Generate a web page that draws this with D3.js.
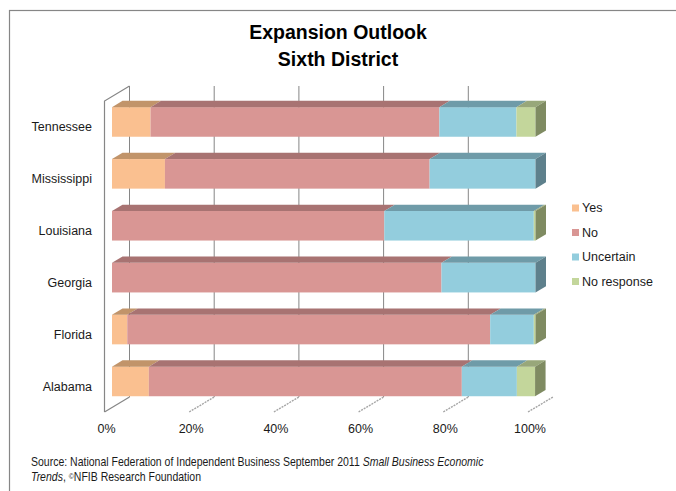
<!DOCTYPE html>
<html>
<head>
<meta charset="utf-8">
<script src="https://cdn.jsdelivr.net/npm/d3@7/dist/d3.min.js"></script>
<style>
  html, body { margin: 0; padding: 0; background: #fff; }
  svg { display: block; font-family: "Liberation Sans", Arial, sans-serif; }
</style>
</head>
<body>
<svg id="chart" width="676" height="491"></svg>
<script>
// Survey shares (%) by state, stacked in the order of the series list
const states = ["Tennessee", "Mississippi", "Louisiana", "Georgia", "Florida", "Alabama"];
const series = ["Yes", "No", "Uncertain", "No response"];
const yesVals        = [9.1, 12.5, 0,    0,    3.6,  8.7];
const noVals         = [68.2, 62.5, 64.3, 77.8, 85.7, 73.9];
const uncertainVals  = [18.2, 25.0, 35.3, 22.2, 10.3, 13.0];
const noResponseVals = [4.5,  0,    0.4,  0,    0.4,  4.3];
const tickValues = [0, 20, 40, 60, 80, 100];
const tickLabels = ["0%", "20%", "40%", "60%", "80%", "100%"];

const seriesValues = [yesVals, noVals, uncertainVals, noResponseVals];
const palette = {
  front: ["#fac090", "#d99694", "#93cddd", "#c3d69b"],
  top:   ["#c1946a", "#a87372", "#6f9ba8", "#98a77a"],
  side:  ["#a07a55", "#8c5f5e", "#5e808c", "#7f8b62"]
};

const svg = d3.select("#chart");

// outer chart frame
svg.append("rect")
  .attr("x", 9.5).attr("y", 10.5)
  .attr("width", 700).attr("height", 520)
  .attr("fill", "#fff").attr("stroke", "#868686").attr("stroke-width", 1.2);

// title
const title = svg.append("text")
  .attr("text-anchor", "middle")
  .attr("font-weight", "bold").attr("font-size", 19.5).attr("fill", "#000");
title.append("tspan").attr("x", 338).attr("y", 39).text("Expansion Outlook");
title.append("tspan").attr("x", 338).attr("y", 66).text("Sixth District");

// oblique projection: value along x, depth goes up and to the right
const depthDX = 25, depthDY = -15;
const x = d3.scaleLinear().domain([0, 100]).range([104.5, 528]);
const floorY = 412;
const wallTop = 101;
const y = d3.scaleBand().domain(states).range([96, 407.4]).paddingInner(0.43).paddingOuter(0.215);
const barD0 = 0.3, barD1 = 0.72;

const px = (v, d) => x(v) + d * depthDX;
const py = (yy, d) => yy + d * depthDY;

// back-wall gridlines
const grid = svg.append("g");
grid.selectAll("line.grid")
  .data(tickValues.slice(0, -1))
  .join("line")
  .attr("class", "grid")
  .attr("x1", d => px(d, 1)).attr("x2", d => px(d, 1))
  .attr("y1", py(wallTop, 1)).attr("y2", py(floorY, 1))
  .attr("stroke", "#868686").attr("stroke-width", 1);

// left side wall
svg.append("path")
  .attr("d", `M${px(0,1)},${py(wallTop,1)} L${px(0,0)},${py(wallTop,0)} L${px(0,0)},${floorY}`)
  .attr("fill", "none").attr("stroke", "#868686").attr("stroke-width", 1.2);

// floor gridlines (diagonal)
svg.append("g").selectAll("line")
  .data(tickValues)
  .join("line")
  .attr("x1", d => px(d, 0)).attr("y1", py(floorY, 0))
  .attr("x2", d => px(d, 1)).attr("y2", py(floorY, 1))
  .attr("stroke", d => d === 0 ? "#868686" : "#a6a6a6")
  .attr("stroke-width", d => d === 0 ? 1.2 : 1.4)
  .attr("stroke-dasharray", d => d === 0 ? null : "2,1");

// stacked 3D bars
const stackRows = states.map((s, i) => {
  let acc = 0;
  const segs = seriesValues.map((vals, k) => {
    const s0 = acc; acc += vals[i];
    return { k, v0: s0, v1: acc, value: vals[i] };
  }).filter(d => d.value > 0);
  return { state: s, segs };
});

const bars = svg.append("g");
stackRows.forEach(row => {
  const top = y(row.state), bot = top + y.bandwidth();
  const g = bars.append("g");
  row.segs.forEach((seg, j) => {
    const xa = px(seg.v0, barD0), xb = px(seg.v1, barD0);
    // front face
    g.append("rect")
      .attr("x", xa).attr("y", top)
      .attr("width", xb - xa).attr("height", bot - top)
      .attr("fill", palette.front[seg.k]);
    // top face
    const dd = barD1 - barD0;
    g.append("path")
      .attr("d", `M${xa},${top} L${xa + dd*depthDX},${top + dd*depthDY} L${xb + dd*depthDX},${top + dd*depthDY} L${xb},${top} Z`)
      .attr("fill", palette.top[seg.k]);
    // end cap on the last segment
    if (j === row.segs.length - 1) {
      g.append("path")
        .attr("d", `M${xb},${top} L${xb + dd*depthDX},${top + dd*depthDY} L${xb + dd*depthDX},${bot + dd*depthDY} L${xb},${bot} Z`)
        .attr("fill", palette.side[seg.k]);
    }
  });
});

// category labels
svg.append("g").selectAll("text")
  .data(states)
  .join("text")
  .attr("x", 92)
  .attr("y", d => y(d) + y.bandwidth() / 2 + 5)
  .attr("dy", "0.35em")
  .attr("text-anchor", "end")
  .attr("font-size", 12.5).attr("fill", "#1a1a1a")
  .text(d => d);

// value axis labels
svg.append("g").selectAll("text")
  .data(tickValues)
  .join("text")
  .attr("x", d => x(d) + 2)
  .attr("y", 429)
  .attr("dy", "0.35em")
  .attr("text-anchor", "middle")
  .attr("font-size", 12.5).attr("fill", "#1a1a1a")
  .text((d, i) => tickLabels[i]);

// legend
const legend = svg.append("g").attr("transform", "translate(572,208)");
series.forEach((name, k) => {
  const row = legend.append("g").attr("transform", `translate(0,${k * 24.5})`);
  row.append("rect").attr("x", 0).attr("y", -3.5).attr("width", 7).attr("height", 7)
    .attr("fill", palette.front[k]);
  row.append("text").attr("x", 10).attr("y", 0).attr("dy", "0.35em")
    .attr("font-size", 12.5).attr("fill", "#1a1a1a").text(name);
});

// source note, set in a condensed width
const note = svg.append("g").attr("transform", "translate(31,0) scale(0.875,1)");
const src = note.append("text").attr("font-size", 12).attr("fill", "#1a1a1a")
  .attr("x", 0).attr("y", 466);
src.append("tspan").text("Source: National Federation of Independent Business September 2011 ");
src.append("tspan").attr("font-style", "italic").text("Small Business Economic");
const l2 = note.append("text").attr("font-size", 12).attr("fill", "#1a1a1a")
  .attr("x", 0).attr("y", 481);
l2.append("tspan").attr("font-style", "italic").text("Trends");
l2.append("tspan").text(", ");
l2.append("tspan").attr("font-size", 8).attr("dy", -2).text("©");
l2.append("tspan").attr("dy", 2).text("NFIB Research Foundation");
</script>
</body>
</html>
